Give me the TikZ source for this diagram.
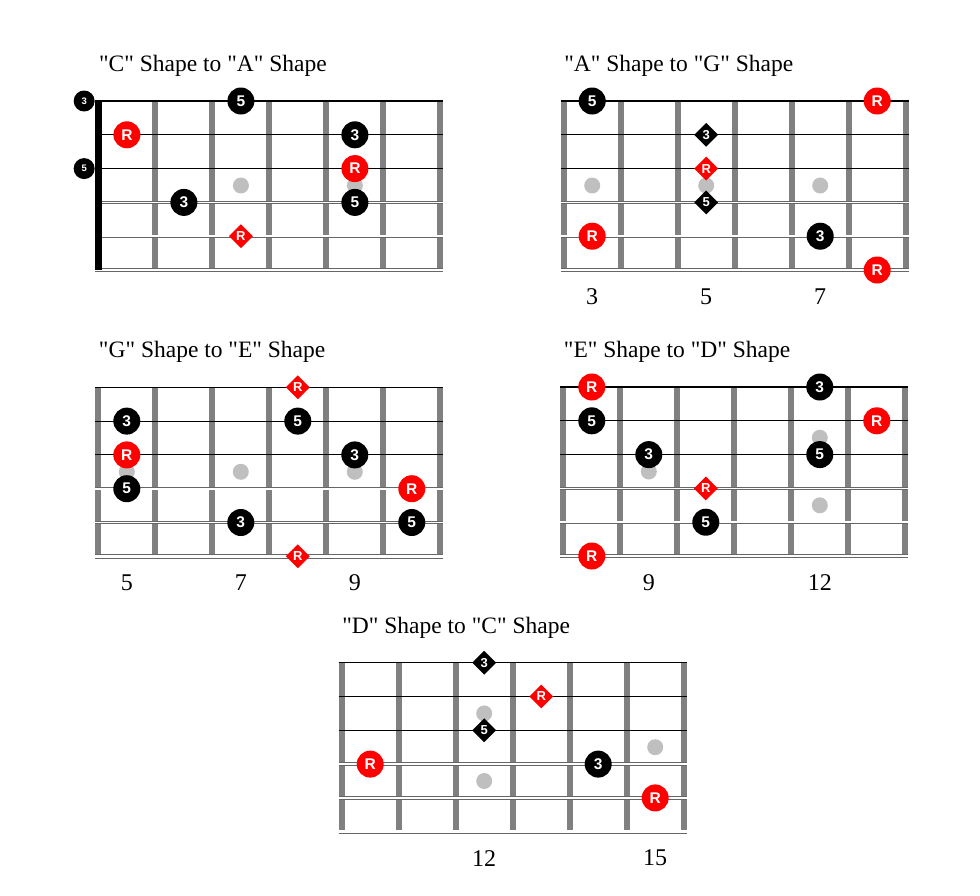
\documentclass[tikz,border=0pt]{standalone}
\usepackage{fontspec}
\setmainfont{Liberation Serif}
\newfontfamily\dotfont{Liberation Sans}
\usetikzlibrary{shapes.geometric}

% straight double quote
\newcommand{\qq}{\textquotedbl}

% frets and strings of one board, in fret/string units
\newcommand{\drawboard}{%
	\foreach \f in {0,...,6} \draw[fret] (\f,0) -- (\f,5);
	\foreach \s in {0,1,2} \draw[plainstring] (-0.053,\s) -- (6.053,\s);
	\foreach \s in {3,4} \draw[woundstring] (-0.053,\s) -- (6.053,\s);
	\draw[woundstring,line width=0.9pt,double distance=2.6pt] (-0.053,5) -- (6.053,5);
}

\begin{document}
\begin{tikzpicture}[
	fret/.style={draw=black!50,line width=6pt},
	plainstring/.style={draw=black,line width=1.1pt},
	woundstring/.style={draw=black!60,line width=0.8pt,double=white,double distance=1.8pt},
	inlay/.style={fill=black!25},
	note/.style={circle,fill=black,text=white,minimum size=27pt,inner sep=0pt,font=\dotfont\bfseries\fontsize{15.5}{15}\selectfont},
	root/.style={note,fill=red},
	dnote/.style={diamond,fill=black,text=white,minimum size=24pt,inner sep=0pt,font=\dotfont\bfseries\fontsize{13}{13}\selectfont},
	droot/.style={dnote,fill=red},
	opennote/.style={circle,fill=black,text=white,minimum size=21pt,inner sep=0pt,font=\dotfont\bfseries\fontsize{9.5}{9}\selectfont},
	title/.style={anchor=base west,font=\fontsize{23.5}{26}\selectfont},
	fretnum/.style={font=\fontsize{24}{26}\selectfont}]
	\useasboundingbox (0,0) rectangle (980pt,-895pt);

	% "C" to "A"
	\begin{scope}[shift={(98.4pt,-101pt)},x=57pt,y=-33.8pt]
	\node[title] (ca-title) at (-0.05,-0.87) {\qq C\qq{} Shape to \qq A\qq{} Shape};
	\fill[inlay] (2.5,2.5) circle (8pt);
	\fill[inlay] (4.5,2.5) circle (8pt);
	\drawboard
	\draw[line width=7pt] (0,0) -- (0,5);
	\node[opennote] (ca-o3) at (-0.25,0) {3};
	\node[opennote] (ca-o5) at (-0.25,2) {5};
	\node[note] (ca-5a) at (2.5,0) {5};
	\node[root] (ca-ra) at (0.5,1) {R};
	\node[note] (ca-3a) at (4.5,1) {3};
	\node[root] (ca-rb) at (4.5,2) {R};
	\node[note] (ca-3b) at (1.5,3) {3};
	\node[note] (ca-5b) at (4.5,3) {5};
	\node[droot] (ca-rc) at (2.5,4) {R};
	\end{scope}

	% "A" to "G"
	\begin{scope}[shift={(563.7pt,-101pt)},x=57pt,y=-33.8pt]
	\node[title] (ag-title) at (-0.05,-0.87) {\qq A\qq{} Shape to \qq G\qq{} Shape};
	\foreach \x in {0.5,2.5,4.5} \fill[inlay] (\x,2.5) circle (8pt);
	\drawboard
	\node[fretnum] (ag-n3) at (0.5,5.78) {3};
	\node[fretnum] (ag-n5) at (2.5,5.78) {5};
	\node[fretnum] (ag-n7) at (4.5,5.78) {7};
	\node[note] (ag-5a) at (0.5,0) {5};
	\node[root] (ag-ra) at (5.5,0) {R};
	\node[dnote] (ag-3a) at (2.5,1) {3};
	\node[droot] (ag-rb) at (2.5,2) {R};
	\node[dnote] (ag-5b) at (2.5,3) {5};
	\node[root] (ag-rc) at (0.5,4) {R};
	\node[note] (ag-3b) at (4.5,4) {3};
	\node[root] (ag-rd) at (5.5,5) {R};
	\end{scope}

	% "G" to "E"
	\begin{scope}[shift={(98.3pt,-387.3pt)},x=57pt,y=-33.8pt]
	\node[title] (ge-title) at (-0.05,-0.87) {\qq G\qq{} Shape to \qq E\qq{} Shape};
	\foreach \x in {0.5,2.5,4.5} \fill[inlay] (\x,2.5) circle (8pt);
	\drawboard
	\node[fretnum] (ge-n5) at (0.5,5.78) {5};
	\node[fretnum] (ge-n7) at (2.5,5.78) {7};
	\node[fretnum] (ge-n9) at (4.5,5.78) {9};
	\node[droot] (ge-ra) at (3.5,0) {R};
	\node[note] (ge-3a) at (0.5,1) {3};
	\node[note] (ge-5a) at (3.5,1) {5};
	\node[root] (ge-rb) at (0.5,2) {R};
	\node[note] (ge-3b) at (4.5,2) {3};
	\node[note] (ge-5b) at (0.5,3) {5};
	\node[root] (ge-rc) at (5.5,3) {R};
	\node[note] (ge-3c) at (2.5,4) {3};
	\node[note] (ge-5c) at (5.5,4) {5};
	\node[droot] (ge-rd) at (3.5,5) {R};
	\end{scope}

	% "E" to "D"
	\begin{scope}[shift={(563.3pt,-387pt)},x=57pt,y=-33.8pt]
	\node[title] (ed-title) at (-0.05,-0.87) {\qq E\qq{} Shape to \qq D\qq{} Shape};
	\fill[inlay] (1.5,2.5) circle (8pt);
	\fill[inlay] (4.5,1.5) circle (8pt);
	\fill[inlay] (4.5,3.5) circle (8pt);
	\drawboard
	\node[fretnum] (ed-n9) at (1.5,5.78) {9};
	\node[fretnum] (ed-n12) at (4.5,5.78) {12};
	\node[root] (ed-ra) at (0.5,0) {R};
	\node[note] (ed-3a) at (4.5,0) {3};
	\node[note] (ed-5a) at (0.5,1) {5};
	\node[root] (ed-rb) at (5.5,1) {R};
	\node[note] (ed-3b) at (1.5,2) {3};
	\node[note] (ed-5b) at (4.5,2) {5};
	\node[droot] (ed-rc) at (2.5,3) {R};
	\node[note] (ed-5c) at (2.5,4) {5};
	\node[root] (ed-rd) at (0.5,5) {R};
	\end{scope}

	% "D" to "C"
	\begin{scope}[shift={(341.7pt,-662.7pt)},x=57pt,y=-33.8pt]
	\node[title] (dc-title) at (-0.05,-0.87) {\qq D\qq{} Shape to \qq C\qq{} Shape};
	\fill[inlay] (2.5,1.5) circle (8pt);
	\fill[inlay] (2.5,3.5) circle (8pt);
	\fill[inlay] (5.5,2.5) circle (8pt);
	\drawboard
	\node[fretnum] (dc-n12) at (2.5,5.78) {12};
	\node[fretnum] (dc-n15) at (5.5,5.78) {15};
	\node[dnote] (dc-3a) at (2.5,0) {3};
	\node[droot] (dc-ra) at (3.5,1) {R};
	\node[dnote] (dc-5a) at (2.5,2) {5};
	\node[root] (dc-rb) at (0.5,3) {R};
	\node[note] (dc-3b) at (4.5,3) {3};
	\node[root] (dc-rc) at (5.5,4) {R};
	\end{scope}
\end{tikzpicture}
\end{document}
